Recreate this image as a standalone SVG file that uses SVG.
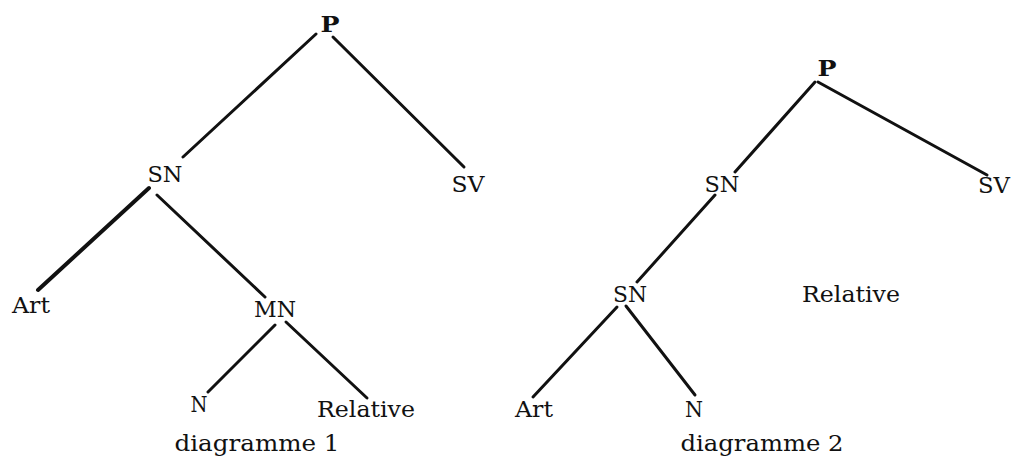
<svg xmlns="http://www.w3.org/2000/svg" width="1014" height="458" viewBox="0 0 1014 458">
<style>
text{font-family:"DejaVu Serif","Liberation Serif",serif;font-size:23px;fill:#111;text-anchor:middle;lengthAdjust:spacingAndGlyphs}
.e{stroke:#111;stroke-width:3;stroke-linecap:round;fill:none}
.b{stroke-width:4}
</style>
<rect width="1014" height="458" fill="#fff"/>
<g id="connectors">
<line class="e" x1="316" y1="34" x2="183" y2="157"/>
<line class="e" x1="333" y1="37" x2="464" y2="167"/>
<line class="e b" x1="149" y1="188" x2="38" y2="290"/>
<line class="e" x1="157" y1="195" x2="265" y2="297"/>
<line class="e" x1="275" y1="325" x2="208" y2="392"/>
<line class="e" x1="286" y1="322" x2="367" y2="398"/>
<line class="e" x1="815" y1="82" x2="735" y2="172"/>
<line class="e" x1="818" y1="82" x2="987" y2="175"/>
<line class="e" x1="715" y1="195" x2="637" y2="282"/>
<line class="e" x1="617" y1="307" x2="533" y2="397"/>
<line class="e" x1="626" y1="306" x2="695" y2="395"/>
</g>
<g id="d1-P"><text x="330" y="32" textLength="19" lengthAdjust="spacingAndGlyphs" font-weight="bold">P</text></g>
<g id="d1-SN"><text x="165" y="182" textLength="35" lengthAdjust="spacingAndGlyphs">SN</text></g>
<g id="d1-SV"><text x="468" y="192" textLength="33" lengthAdjust="spacingAndGlyphs">SV</text></g>
<g id="d1-Art"><text x="31" y="313" textLength="38" lengthAdjust="spacingAndGlyphs">Art</text></g>
<g id="d1-MN"><text x="275" y="317" textLength="42" lengthAdjust="spacingAndGlyphs">MN</text></g>
<g id="d1-N"><text x="199" y="412" textLength="17" lengthAdjust="spacingAndGlyphs">N</text></g>
<g id="d1-Relative"><text x="366" y="417" textLength="98" lengthAdjust="spacingAndGlyphs">Relative</text></g>
<g id="d1-caption"><text x="257" y="451" textLength="165" lengthAdjust="spacingAndGlyphs">diagramme 1</text></g>
<g id="d2-P"><text x="827" y="76" textLength="19" lengthAdjust="spacingAndGlyphs" font-weight="bold">P</text></g>
<g id="d2-SN"><text x="722" y="192" textLength="35" lengthAdjust="spacingAndGlyphs">SN</text></g>
<g id="d2-SV"><text x="994" y="193" textLength="32" lengthAdjust="spacingAndGlyphs">SV</text></g>
<g id="d2-SN2"><text x="630" y="302" textLength="34" lengthAdjust="spacingAndGlyphs">SN</text></g>
<g id="d2-Relative"><text x="851" y="302" textLength="98" lengthAdjust="spacingAndGlyphs">Relative</text></g>
<g id="d2-Art"><text x="534" y="417" textLength="38" lengthAdjust="spacingAndGlyphs">Art</text></g>
<g id="d2-N"><text x="694" y="417" textLength="18" lengthAdjust="spacingAndGlyphs">N</text></g>
<g id="d2-caption"><text x="762" y="451" textLength="163" lengthAdjust="spacingAndGlyphs">diagramme 2</text></g>
</svg>
